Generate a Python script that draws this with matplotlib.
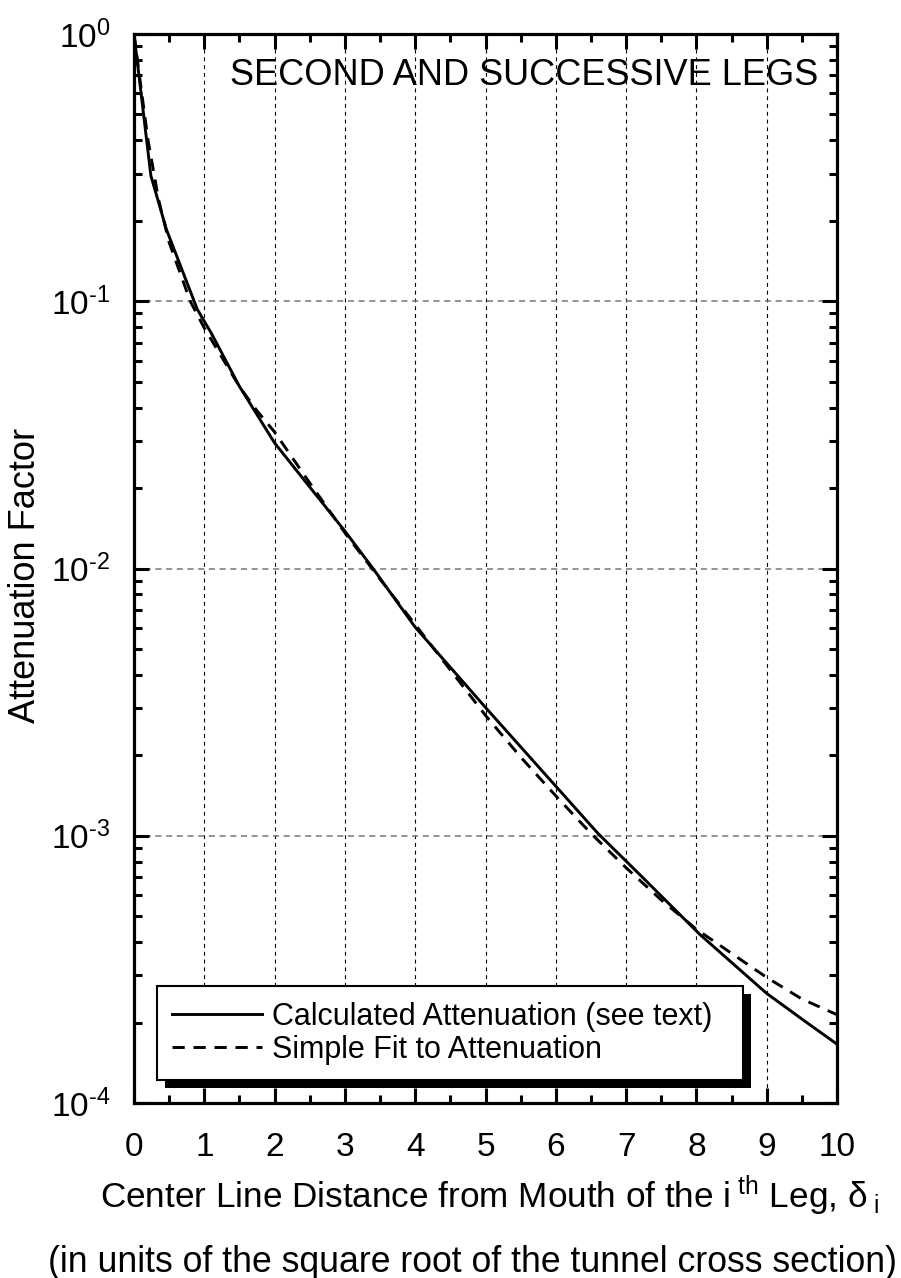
import matplotlib
matplotlib.use('Agg')
import matplotlib.pyplot as plt
from matplotlib.patches import Rectangle
from matplotlib.transforms import IdentityTransform
from matplotlib.ticker import LogLocator, NullFormatter, FixedLocator

plt.rcParams['font.family'] = ['Liberation Sans', 'DejaVu Sans']
plt.rcParams['mathtext.fontset'] = 'custom'
plt.rcParams['mathtext.rm'] = 'Liberation Sans'
plt.rcParams['mathtext.it'] = 'Liberation Sans:italic'
plt.rcParams['mathtext.bf'] = 'Liberation Sans:bold'

# ---- data ----
calc_x = [0.0, 0.24, 0.46, 0.9, 1.1, 1.5, 2.0, 3.0, 3.4, 4.0, 5.0, 6.6, 7.25, 8.05, 9.0, 9.57, 10.0]
calc_y = [1.0, 0.295, 0.186, 0.0933, 0.0759, 0.048, 0.0295, 0.0138, 0.0100, 0.00603,
          0.00302, 0.00102, 0.000692, 0.000427, 0.000257, 0.000200, 0.000166]

fit_x = [0.0, 0.1, 0.2, 0.35, 0.5, 0.8, 1.0, 1.25, 1.5, 1.75, 2.0, 2.5, 3.0, 3.5, 4.0,
         4.5, 5.0, 5.5, 6.0, 6.5, 7.0, 7.5, 8.0, 8.5, 9.0, 9.5, 10.0]
fit_y = [1.0, 0.63, 0.40, 0.24, 0.166, 0.100, 0.0794, 0.0617, 0.0479, 0.0389, 0.0324,
         0.0209, 0.0136, 0.00912, 0.00617, 0.00417, 0.00282, 0.00197, 0.00141, 0.00102,
         0.000759, 0.000575, 0.000447, 0.000363, 0.000295, 0.000245, 0.000214]

x_ticks = [0, 1, 2, 3, 4, 5, 6, 7, 8, 9, 10]
x_tick_labels = ['0', '1', '2', '3', '4', '5', '6', '7', '8', '9', '10']
x_minor_ticks = [0.5, 1.5, 2.5, 3.5, 4.5, 5.5, 6.5, 7.5, 8.5, 9.5]
y_ticks = [1e-4, 1e-3, 1e-2, 1e-1, 1e0]
y_tick_labels = ['$\\mathregular{10^{\u20104}}$', '$\\mathregular{10^{\u20103}}$',
                 '$\\mathregular{10^{\u20102}}$', '$\\mathregular{10^{\u20101}}$',
                 '$\\mathregular{10^{0}}$']

title_text = 'SECOND AND SUCCESSIVE LEGS'
legend_labels = ['Calculated Attenuation (see text)', 'Simple Fit to Attenuation']
y_label = 'Attenuation Factor'
x_label_1 = r'Center Line Distance from Mouth of the i$^{\mathregular{\ th}}$ Leg, $\mathregular{\delta_{\ i}}$'
x_label_2 = '(in units of the square root of the tunnel cross section)'

# ---- figure ----
W, H = 901, 1278
fig = plt.figure(figsize=(W / 100, H / 100), dpi=100)
ax = fig.add_axes([134 / W, 1 - 1103 / H, 703 / W, 1069 / H])

ax.plot(calc_x, calc_y, color='black', lw=2.1, label=legend_labels[0], zorder=3)
ax.plot(fit_x, fit_y, color='black', lw=2.1, ls=(0, (4.2, 3.0)), label=legend_labels[1], zorder=3)

ax.set_yscale('log')
ax.set_xlim(0, 10)
ax.set_ylim(1e-4, 1)

ax.set_xticks(x_ticks)
ax.set_xticklabels(x_tick_labels)
ax.xaxis.set_minor_locator(FixedLocator(x_minor_ticks))
ax.set_yticks(y_ticks)
ax.set_yticklabels(y_tick_labels)
ax.yaxis.set_minor_locator(LogLocator(base=10, subs=[2, 3, 4, 5, 6, 7, 8, 9]))
ax.yaxis.set_minor_formatter(NullFormatter())

ax.tick_params(which='both', direction='in', top=True, right=True, width=2.2, colors='black')
ax.tick_params(which='major', length=11, labelsize=24)
ax.tick_params(which='minor', length=6)
ax.tick_params(axis='x', which='major', pad=21)
ax.tick_params(axis='y', which='major', pad=17)
for s in ax.spines.values():
    s.set_linewidth(2.3)

ax.xaxis.grid(True, which='major', color='black', lw=0.8, ls=(0, (3.5, 3.5)))
ax.yaxis.grid(True, which='major', color='#777777', lw=1.1, ls=(0, (4, 3)))
ax.set_axisbelow(True)

ax.text(0.973, 0.961, title_text, transform=ax.transAxes, ha='right', va='center', fontsize=26)

fig.text(26 / W, 1 - 575 / H, y_label, rotation=90, ha='center', va='center', fontsize=26)
fig.text(490 / W, 1 - 1196 / H, x_label_1, ha='center', va='center', fontsize=25.3)
fig.text(473 / W, 1 - 1262 / H, x_label_2, ha='center', va='center', fontsize=25.7)

leg = ax.legend(loc='lower left', bbox_to_anchor=(0.0327, 0.0215, 0.833, 0.0917), mode='expand',
                fontsize=22, frameon=True, fancybox=False, edgecolor='black', framealpha=1,
                borderpad=0.5, handlelength=2.95, handletextpad=0.33, labelspacing=0.1,
                borderaxespad=0)
leg.get_frame().set_linewidth(1.5)
leg.set_zorder(6)

fig.canvas.draw()
bb = leg.get_window_extent()
shadow = Rectangle((bb.x0 + 8, bb.y0 - 8), bb.width, bb.height, facecolor='black',
                   edgecolor='none', transform=IdentityTransform(), zorder=5.5, clip_on=False)
ax.add_artist(shadow)

fig.savefig('out.png', dpi=100)
